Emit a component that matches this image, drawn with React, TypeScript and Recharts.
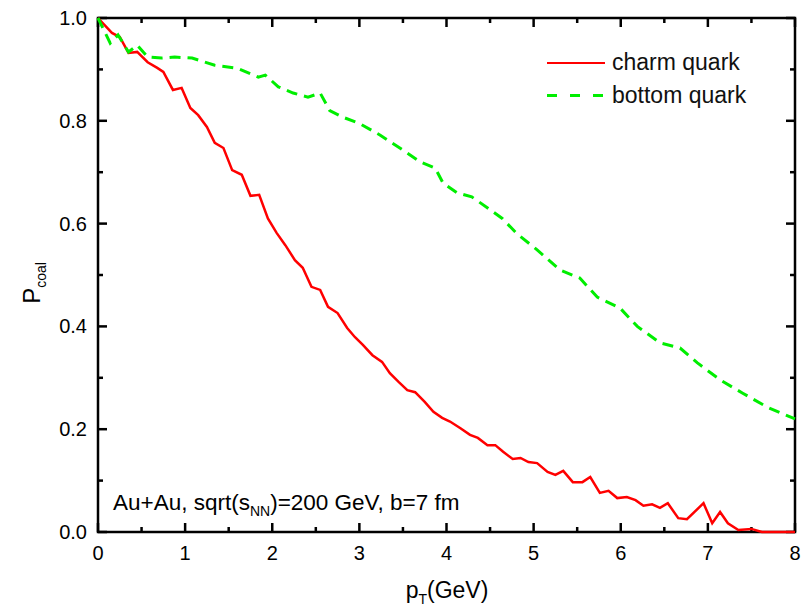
import React from "react";
import {
  LineChart,
  Line,
  XAxis,
  YAxis,
  Legend,
  Customized,
} from "recharts";

// p_T (GeV) and P_coal
const charmPt = [
  0, 0.16, 0.25, 0.35, 0.45, 0.57, 0.68, 0.75, 0.86, 0.96, 1.06, 1.15, 1.25, 1.34,
  1.44, 1.54, 1.65, 1.75, 1.85, 1.95, 2.05, 2.15, 2.26, 2.35, 2.45, 2.55, 2.64,
  2.75, 2.86, 2.95, 3.04, 3.15, 3.26, 3.35, 3.45, 3.55, 3.64, 3.75, 3.85, 3.95,
  4.04, 4.16, 4.27, 4.36, 4.47, 4.56, 4.65, 4.76, 4.85, 4.94, 5.04, 5.16, 5.25,
  5.34, 5.45, 5.56, 5.65, 5.76, 5.86, 5.96, 6.07, 6.17, 6.26, 6.36, 6.45, 6.54,
  6.66, 6.76, 6.95, 7.05, 7.14, 7.23, 7.35, 7.5, 7.62, 8.0,
];
const charmP = [
  1.0, 0.971, 0.963, 0.932, 0.934, 0.914, 0.903, 0.895, 0.86, 0.864, 0.825, 0.811,
  0.788, 0.757, 0.747, 0.704, 0.695, 0.654, 0.656, 0.61, 0.582, 0.558, 0.529,
  0.514, 0.477, 0.471, 0.438, 0.426, 0.397, 0.379, 0.364, 0.344, 0.331, 0.309,
  0.292, 0.276, 0.272, 0.253, 0.234, 0.222, 0.215, 0.202, 0.189, 0.183, 0.169,
  0.169, 0.156, 0.142, 0.144, 0.136, 0.134, 0.117, 0.111, 0.119, 0.097, 0.097,
  0.107, 0.076, 0.08, 0.066, 0.068, 0.062, 0.051, 0.054, 0.047, 0.056, 0.027,
  0.025, 0.056, 0.017, 0.039, 0.017, 0.004, 0.006, 0.0, 0.0,
];

const bottomPt = [
  0, 0.14, 0.23, 0.35, 0.45, 0.57, 0.73, 0.88, 1.08, 1.34, 1.6, 1.84, 1.92, 2.07,
  2.24, 2.41, 2.55, 2.66, 2.81, 3.0, 3.24, 3.5, 3.7, 3.87, 3.96, 4.12, 4.29, 4.46,
  4.64, 4.81, 5.04, 5.3, 5.53, 5.73, 5.99, 6.19, 6.45, 6.68, 6.88, 7.14, 7.4,
  7.68, 8.0,
];
const bottomP = [
  1.0, 0.951, 0.967, 0.934, 0.947, 0.924, 0.922, 0.924, 0.922, 0.908, 0.902,
  0.885, 0.889, 0.866, 0.854, 0.846, 0.854, 0.82, 0.807, 0.795, 0.772, 0.743,
  0.72, 0.708, 0.679, 0.66, 0.652, 0.632, 0.61, 0.58, 0.549, 0.51, 0.494, 0.457,
  0.436, 0.4, 0.368, 0.358, 0.329, 0.296, 0.27, 0.243, 0.22,
];

const xTicks = [0, 0.5, 1, 1.5, 2, 2.5, 3, 3.5, 4, 4.5, 5, 5.5, 6, 6.5, 7, 7.5, 8];
const yTicks = [0, 0.1, 0.2, 0.3, 0.4, 0.5, 0.6, 0.7, 0.8, 0.9, 1.0];
const X_DOMAIN = [0, 8];
const Y_DOMAIN = [0, 1];

const charm = charmPt.map((x, i) => ({ x, y: charmP[i] }));
const bottom = bottomPt.map((x, i) => ({ x, y: bottomP[i] }));

const W = 806;
const H = 608;
const MARGIN = { top: 18, right: 11, bottom: 0, left: 0 };
const YAXIS_W = 98;
const XAXIS_H = 76;

const FONT = "'Liberation Sans', Arial, Helvetica, sans-serif";
const RED = "#ff0000";
const GREEN = "#00ee00";

const isMajorX = (v: number) => Math.abs(v - Math.round(v)) < 1e-6;
const isMajorY = (v: number) => Math.abs(v * 5 - Math.round(v * 5)) < 1e-6;

const BottomTick = (p: any) => {
  const v = p.payload.value;
  if (!isMajorX(v)) return <g />;
  return (
    <text x={p.x} y={p.y + 28} textAnchor="middle" fontSize={20} fontFamily={FONT}>
      {Math.round(v)}
    </text>
  );
};

const LeftTick = (p: any) => {
  const v = p.payload.value;
  if (!isMajorY(v)) return <g />;
  return (
    <text x={p.x - 11} y={p.y + 7} textAnchor="end" fontSize={20} fontFamily={FONT}>
      {v.toFixed(1)}
    </text>
  );
};

// box frame with inward ticks on all four sides, laid out from the same
// margins / axis sizes the chart uses
const Frame = () => {
  const left = MARGIN.left + YAXIS_W;
  const right = W - MARGIN.right;
  const top = MARGIN.top;
  const bot = H - MARGIN.bottom - XAXIS_H;
  const sx = (v: number) => left + ((v - X_DOMAIN[0]) / (X_DOMAIN[1] - X_DOMAIN[0])) * (right - left);
  const sy = (v: number) => bot - ((v - Y_DOMAIN[0]) / (Y_DOMAIN[1] - Y_DOMAIN[0])) * (bot - top);
  return (
    <g stroke="#000" strokeWidth={2.5} fill="none">
      <rect x={left} y={top} width={right - left} height={bot - top} />
      {xTicks.map((v) => {
        const len = isMajorX(v) ? 9 : 5;
        const x = sx(v);
        return (
          <g key={`x${v}`}>
            <line x1={x} x2={x} y1={bot} y2={bot - len} />
            <line x1={x} x2={x} y1={top} y2={top + len} />
          </g>
        );
      })}
      {yTicks.map((v) => {
        const len = isMajorY(v) ? 9 : 5;
        const y = sy(v);
        return (
          <g key={`y${v}`}>
            <line x1={left} x2={left + len} y1={y} y2={y} />
            <line x1={right} x2={right - len} y1={y} y2={y} />
          </g>
        );
      })}
    </g>
  );
};

const Texts = () => (
  <g>
    <text x={113} y={510} fontSize={22.5} fontFamily={FONT}>
      Au+Au, sqrt(s
      <tspan fontSize={14} dy={6}>NN</tspan>
      <tspan dy={-6}>)=200 GeV, b=7 fm</tspan>
    </text>
    <text x={447} y={598} textAnchor="middle" fontSize={23} fontFamily={FONT}>
      p<tspan fontSize={14} dy={6}>T</tspan>
      <tspan dy={-6}>(GeV)</tspan>
    </text>
    <text x={40} y={283} transform="rotate(-90 40 283)" textAnchor="middle" fontSize={24} fontFamily={FONT}>
      P<tspan fontSize={14} dy={6}>coal</tspan>
    </text>
  </g>
);

const legendRow = { display: "flex", alignItems: "center", height: 33 };
const legendText = { fontFamily: FONT, fontSize: 23, color: "#111", marginLeft: 7 };

const LegendBox = () => (
  <div>
    <div style={legendRow}>
      <div style={{ width: 58, borderTop: `2.5px solid ${RED}` }} />
      <span style={legendText}>charm quark</span>
    </div>
    <div style={legendRow}>
      <div style={{ width: 58, height: 3, background: `repeating-linear-gradient(90deg, ${GREEN} 0 10px, transparent 10px 23px)` }} />
      <span style={legendText}>bottom quark</span>
    </div>
  </div>
);

export default function App() {
  return (
    <div style={{ position: "absolute", left: 0, top: 0 }}>
      <LineChart width={W} height={H} margin={MARGIN}>
        <XAxis
          xAxisId="b"
          dataKey="x"
          type="number"
          domain={X_DOMAIN}
          ticks={xTicks}
          interval={0}
          height={XAXIS_H}
          tickSize={0}
          tickMargin={0}
          tickLine={false}
          axisLine={false}
          tick={BottomTick}
        />
        <YAxis
          yAxisId="l"
          type="number"
          domain={Y_DOMAIN}
          ticks={yTicks}
          interval={0}
          width={YAXIS_W}
          tickSize={0}
          tickMargin={0}
          tickLine={false}
          axisLine={false}
          tick={LeftTick}
        />
        <Legend
          layout="horizontal"
          verticalAlign="middle"
          align="center"
          content={LegendBox}
          wrapperStyle={{ position: "absolute", left: 547, top: 46, width: 250, height: 66 }}
        />
        <Line
          xAxisId="b"
          yAxisId="l"
          data={charm}
          dataKey="y"
          name="charm quark"
          type="linear"
          stroke={RED}
          strokeWidth={2.5}
          dot={false}
          isAnimationActive={false}
        />
        <Line
          xAxisId="b"
          yAxisId="l"
          data={bottom}
          dataKey="y"
          name="bottom quark"
          type="linear"
          stroke={GREEN}
          strokeWidth={3}
          strokeDasharray="11 7"
          dot={false}
          isAnimationActive={false}
        />
        <Customized component={Frame} />
        <Customized component={Texts} />
      </LineChart>
    </div>
  );
}
